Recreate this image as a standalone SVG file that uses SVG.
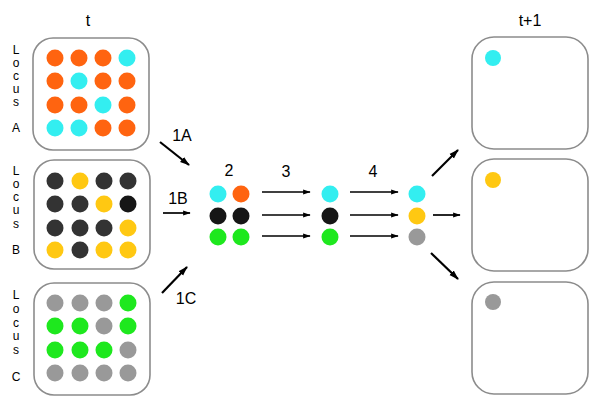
<svg xmlns="http://www.w3.org/2000/svg" width="601" height="405" viewBox="0 0 601 405">
<defs>
<style>
.box{fill:#fff;stroke:#8c8c8c;stroke-width:1.6}
.lbl{font-family:"Liberation Sans",Arial,sans-serif;font-size:16px;fill:#000;text-anchor:middle}
.loc text{font-family:"Liberation Sans",Arial,sans-serif;font-size:12px;fill:#000;text-anchor:middle}
.o{fill:#ff6410}.c{fill:#33eef0}.k{fill:#333333}.kk{fill:#161616}.y{fill:#ffc812}.g{fill:#999999}.n{fill:#1ee81e}
.arr{stroke:#000;fill:none;marker-end:url(#ah)}
.d{stroke-width:2.2}.h{stroke-width:1.7}
</style>
<marker id="ah" viewBox="0 0 10 10" refX="9" refY="5" markerWidth="4.5" markerHeight="4.5" orient="auto" markerUnits="strokeWidth">
<path d="M0,1.8 L10,5 L0,8.2 z" fill="#000"/>
</marker>
</defs>
<text class="lbl" x="88" y="26">t</text>
<text class="lbl" x="530" y="26">t+1</text>
<g id="boxA">
<rect class="box" x="33" y="38" width="116" height="112" rx="20"/>
<g class="loc"><text x="16" y="54">L</text><text x="16" y="67">o</text><text x="16" y="80">c</text><text x="16" y="93">u</text><text x="16" y="106">s</text><text x="16" y="132">A</text></g>
<circle class="o" cx="55" cy="58" r="8.5"/><circle class="o" cx="79" cy="58" r="8.5"/><circle class="o" cx="103" cy="58" r="8.5"/><circle class="c" cx="127" cy="58" r="8.5"/>
<circle class="o" cx="55" cy="81" r="8.5"/><circle class="c" cx="79" cy="81" r="8.5"/><circle class="o" cx="103" cy="81" r="8.5"/><circle class="o" cx="127" cy="81" r="8.5"/>
<circle class="o" cx="55" cy="105" r="8.5"/><circle class="o" cx="79" cy="105" r="8.5"/><circle class="c" cx="103" cy="105" r="8.5"/><circle class="o" cx="127" cy="105" r="8.5"/>
<circle class="c" cx="55" cy="128" r="8.5"/><circle class="c" cx="79" cy="128" r="8.5"/><circle class="o" cx="103" cy="128" r="8.5"/><circle class="o" cx="127" cy="128" r="8.5"/>
</g>
<g id="boxB">
<rect class="box" x="34" y="160" width="116" height="109" rx="20"/>
<g class="loc"><text x="16" y="175">L</text><text x="16" y="188">o</text><text x="16" y="201">c</text><text x="16" y="214">u</text><text x="16" y="228">s</text><text x="16" y="254">B</text></g>
<circle class="k" cx="55" cy="181" r="8.5"/><circle class="y" cx="80" cy="181" r="8.5"/><circle class="k" cx="104" cy="181" r="8.5"/><circle class="k" cx="128" cy="181" r="8.5"/>
<circle class="k" cx="55" cy="204" r="8.5"/><circle class="k" cx="80" cy="204" r="8.5"/><circle class="y" cx="104" cy="204" r="8.5"/><circle class="kk" cx="128" cy="204" r="8.5"/>
<circle class="k" cx="55" cy="228" r="8.5"/><circle class="k" cx="80" cy="228" r="8.5"/><circle class="k" cx="104" cy="228" r="8.5"/><circle class="y" cx="128" cy="228" r="8.5"/>
<circle class="y" cx="55" cy="250" r="8.5"/><circle class="k" cx="80" cy="250" r="8.5"/><circle class="y" cx="104" cy="250" r="8.5"/><circle class="y" cx="128" cy="250" r="8.5"/>
</g>
<g id="boxC">
<rect class="box" x="34" y="283" width="116" height="112" rx="20"/>
<g class="loc"><text x="16" y="299">L</text><text x="16" y="313">o</text><text x="16" y="327">c</text><text x="16" y="340">u</text><text x="16" y="354">s</text><text x="16" y="381">C</text></g>
<circle class="g" cx="55" cy="303" r="8.5"/><circle class="g" cx="80" cy="303" r="8.5"/><circle class="g" cx="104" cy="303" r="8.5"/><circle class="n" cx="128" cy="303" r="8.5"/>
<circle class="n" cx="55" cy="326" r="8.5"/><circle class="n" cx="80" cy="326" r="8.5"/><circle class="g" cx="104" cy="326" r="8.5"/><circle class="n" cx="128" cy="326" r="8.5"/>
<circle class="n" cx="55" cy="350" r="8.5"/><circle class="n" cx="80" cy="350" r="8.5"/><circle class="n" cx="104" cy="350" r="8.5"/><circle class="g" cx="128" cy="350" r="8.5"/>
<circle class="g" cx="55" cy="373" r="8.5"/><circle class="g" cx="80" cy="373" r="8.5"/><circle class="g" cx="104" cy="373" r="8.5"/><circle class="g" cx="128" cy="373" r="8.5"/>
</g>
<g id="step2">
<text class="lbl" x="229" y="176">2</text>
<circle class="c" cx="218" cy="194" r="8.5"/><circle class="o" cx="241" cy="194" r="8.5"/>
<circle class="kk" cx="218" cy="216" r="8.5"/><circle class="kk" cx="241" cy="216" r="8.5"/>
<circle class="n" cx="218" cy="237" r="8.5"/><circle class="n" cx="241" cy="237" r="8.5"/>
</g>
<g id="step3">
<circle class="c" cx="330" cy="194" r="8.5"/>
<circle class="kk" cx="330" cy="216" r="8.5"/>
<circle class="n" cx="330" cy="237" r="8.5"/>
</g>
<g id="step4">
<circle class="c" cx="417" cy="194" r="8.5"/>
<circle class="y" cx="417" cy="216" r="8.5"/>
<circle class="g" cx="417" cy="237" r="8.5"/>
</g>
<g id="out1"><rect class="box" x="472" y="37" width="116" height="112" rx="22"/><circle class="c" cx="493" cy="58" r="8"/></g>
<g id="out2"><rect class="box" x="472" y="159" width="116" height="112" rx="22"/><circle class="y" cx="493" cy="180" r="8"/></g>
<g id="out3"><rect class="box" x="472" y="282" width="116" height="112" rx="22"/><circle class="g" cx="493" cy="302" r="8"/></g>
<g id="connectors">
<line class="arr d" x1="160" y1="142" x2="189" y2="165"/>
<line class="arr h" x1="163" y1="213" x2="190" y2="213"/>
<line class="arr d" x1="162" y1="293" x2="187" y2="267"/>
<line class="arr h" x1="262" y1="192" x2="310" y2="192"/>
<line class="arr h" x1="262" y1="215" x2="310" y2="215"/>
<line class="arr h" x1="262" y1="236" x2="310" y2="236"/>
<line class="arr h" x1="350" y1="192" x2="398" y2="192"/>
<line class="arr h" x1="350" y1="215" x2="398" y2="215"/>
<line class="arr h" x1="350" y1="236" x2="398" y2="236"/>
<line class="arr d" x1="432" y1="176" x2="458" y2="150"/>
<line class="arr h" x1="433" y1="215" x2="460" y2="215"/>
<line class="arr d" x1="431" y1="253" x2="458" y2="279"/>
<text class="lbl" x="182" y="141">1A</text>
<text class="lbl" x="178" y="204">1B</text>
<text class="lbl" x="186" y="304">1C</text>
<text class="lbl" x="286" y="177">3</text>
<text class="lbl" x="373" y="177">4</text>
</g>
</svg>
